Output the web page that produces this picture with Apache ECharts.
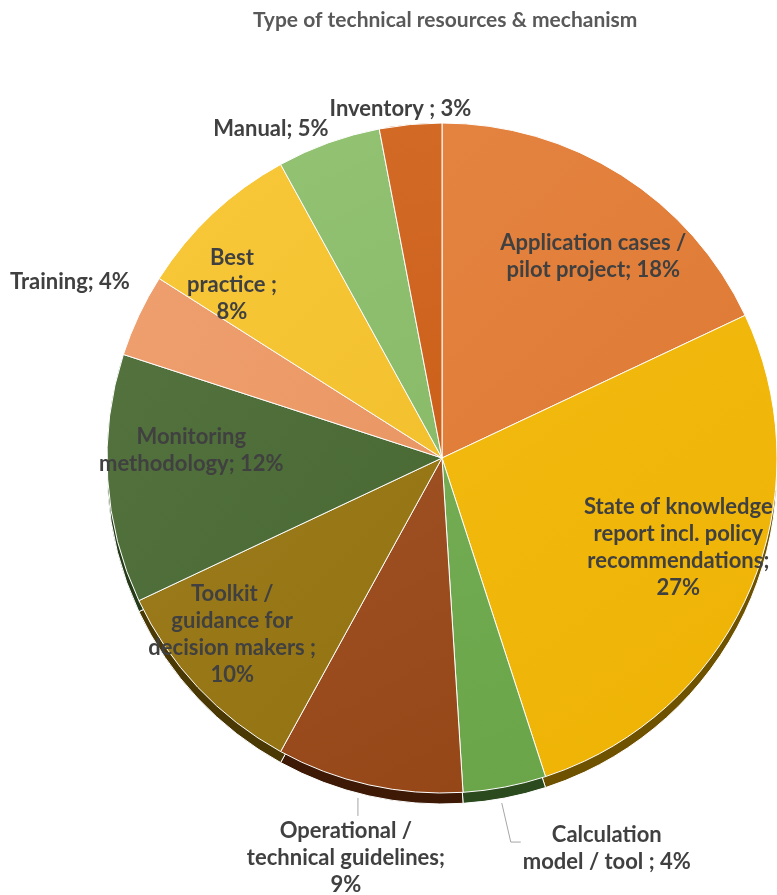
<!DOCTYPE html>
<html>
<head>
<meta charset="utf-8">
<script src="https://cdn.jsdelivr.net/npm/echarts@6/dist/echarts.min.js"></script>
<style>
  html, body { margin: 0; padding: 0; background: #ffffff; }
  #chart { width: 777px; height: 895px; }
</style>
</head>
<body>
<div id="chart"></div>
<script>
// Share of each type of technical resource (percent), clockwise from 12 o'clock
const categories = [
  'Application cases / pilot project',
  'State of knowledge report incl. policy recommendations',
  'Calculation model / tool',
  'Operational / technical guidelines',
  'Toolkit / guidance for decision makers',
  'Monitoring methodology',
  'Training',
  'Best practice',
  'Manual',
  'Inventory'
];
const values = [18, 27, 4, 9, 10, 12, 4, 8, 5, 3];
// Label wording with line breaks; {p} is replaced by the slice value
const labelFormats = [
  'Application cases /\npilot project; {p}%',
  'State of knowledge\nreport incl. policy\nrecommendations;\n{p}%',
  'Calculation\nmodel / tool ; {p}%',
  'Operational /\ntechnical guidelines;\n{p}%',
  'Toolkit /\nguidance for\ndecision makers ;\n{p}%',
  'Monitoring\nmethodology; {p}%',
  'Training; {p}%',
  'Best\npractice ;\n{p}%',
  'Manual; {p}%',
  'Inventory ; {p}%'
];

const topColors  = ['#E37C36', '#F2B603', '#6CA84A', '#994818', '#967410', '#4A6B34', '#EE9A66', '#F8C52F', '#8CBF6B', '#D0621B'];
const sideColors = ['#7A3E15', '#6E5200', '#2B4A1E', '#3E1A06', '#4A3805', '#243A18', '#7A4A2E', '#7A6010', '#3E5A2E', '#6A300C'];

// Pie geometry
const CX = 442, CY = 458, R = 335, DEPTH = 11;

function shade(hex, amt) {
  const n = parseInt(hex.slice(1), 16);
  let r = (n >> 16) & 255, g = (n >> 8) & 255, b = n & 255;
  const f = (c) => Math.max(0, Math.min(255, Math.round(amt > 0 ? c + (255 - c) * amt : c * (1 + amt))));
  return 'rgb(' + f(r) + ',' + f(g) + ',' + f(b) + ')';
}

const total = values.reduce((a, b) => a + b, 0);
// Mid angle of each slice, radians clockwise from 12 o'clock
const midAngles = values.map((v, i) => {
  const before = values.slice(0, i).reduce((a, b) => a + b, 0);
  return (before + v / 2) / total * Math.PI * 2;
});
function polar(i, r) {
  return [CX + r * Math.sin(midAngles[i]), CY - r * Math.cos(midAngles[i])];
}

// How each label sits: inside slices at a fraction of the radius, or outside the rim
const placement = {
  0: { kind: 'inside', dx: 22, dy: 2 },
  1: { kind: 'inside', dx: 15, dy: -6 },
  2: { kind: 'elbow' },
  3: { kind: 'below' },
  4: { kind: 'inside', dx: -34, dy: 11 },
  5: { kind: 'inside', dx: -10, dy: -23 },
  6: { kind: 'rim', dx: -9, dy: -33, align: 'right' },
  7: { kind: 'inside', dx: -45, dy: 3 },
  8: { kind: 'rim', dx: 0, dy: -14, align: 'right' },
  9: { kind: 'rim', dx: -10, dy: -16, align: 'center' }
};

const labelStyle = {
  fontFamily: 'Lato',
  fontWeight: 'bold',
  fontSize: 22,
  lineHeight: 27,
  color: '#404040'
};

const topData = categories.map((name, i) => {
  const p = placement[i];
  const outside = p.kind !== 'inside';
  return {
    name: name,
    value: values[i],
    itemStyle: {
      color: new echarts.graphic.LinearGradient(0, 0, 1, 1, [
        { offset: 0, color: shade(topColors[i], 0.05) },
        { offset: 1, color: shade(topColors[i], -0.02) }
      ])
    },
    label: {
      show: true,
      position: outside ? 'outside' : 'inside',
      formatter: labelFormats[i].replace('{p}', values[i])
    },
    labelLine: {
      show: p.kind === 'elbow' || p.kind === 'below'
    }
  };
});

const sideData = categories.map((name, i) => ({
  name: name,
  value: values[i],
  itemStyle: { color: sideColors[i] }
}));

const chart = echarts.init(document.getElementById('chart'), null, { renderer: 'canvas' });

chart.setOption({
  backgroundColor: '#ffffff',
  animation: false,
  title: {
    text: 'Type of technical resources & mechanism',
    left: 248,
    top: 5,
    textStyle: { fontFamily: 'Lato', fontWeight: 'bold', fontSize: 21, color: '#595959' }
  },
  series: [
    {
      // pie thickness, seen under the front rim
      type: 'pie',
      silent: true,
      center: [CX, CY + DEPTH],
      radius: R,
      startAngle: 90,
      clockwise: true,
      label: { show: false },
      labelLine: { show: false },
      itemStyle: { borderColor: '#ffffff', borderWidth: 1 },
      data: sideData
    },
    {
      type: 'pie',
      center: [CX, CY],
      radius: R,
      startAngle: 90,
      clockwise: true,
      avoidLabelOverlap: false,
      itemStyle: { borderColor: '#ffffff', borderWidth: 1 },
      label: labelStyle,
      labelLine: { lineStyle: { color: '#A6A6A6', width: 1 }, length: 15, length2: 10 },
      labelLayout: function (params) {
        if (params.seriesIndex !== 1) return;
        const i = params.dataIndex;
        const p = placement[i];
        const w = params.labelRect.width;
        if (p.kind === 'inside') {
          const pt = polar(i, R * 0.72);
          return { x: pt[0] + p.dx, y: pt[1] + p.dy, align: 'center', verticalAlign: 'middle' };
        }
        const edge = polar(i, R);
        if (p.kind === 'rim') {
          return { x: edge[0] + p.dx, y: edge[1] + p.dy, align: p.align, verticalAlign: 'middle' };
        }
        if (p.kind === 'elbow') {
          const s = [edge[0] - 3, edge[1] + DEPTH + 5];
          const m = [s[0] + 9, s[1] + 39];
          const e = [m[0] + 10, m[1]];
          return {
            x: e[0] + 2 + w / 2, y: e[1] + 6, align: 'center', verticalAlign: 'middle',
            labelLinePoints: [s, m, e]
          };
        }
        // 'below': short vertical leader with the text centred underneath
        const s = [edge[0] - 11, edge[1] + 13];
        const e = [s[0], s[1] + 18];
        return {
          x: e[0] - 12, y: e[1] + 1, align: 'center', verticalAlign: 'top',
          labelLinePoints: [s, [s[0], (s[1] + e[1]) / 2], e]
        };
      },
      data: topData
    }
  ]
});
</script>
</body>
</html>
